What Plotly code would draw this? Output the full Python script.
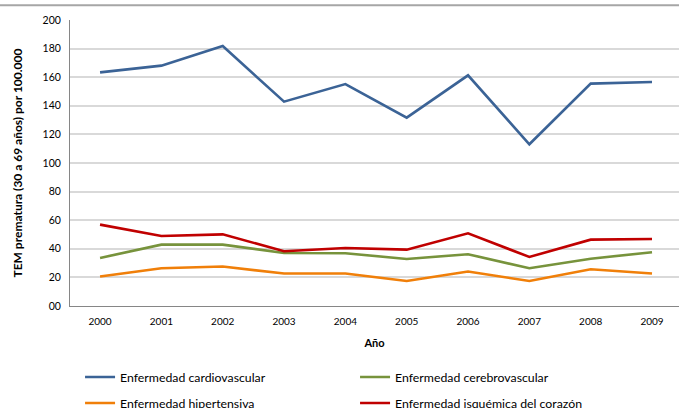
import plotly.graph_objects as go

years = ["2000", "2001", "2002", "2003", "2004", "2005", "2006", "2007", "2008", "2009"]
cardiovascular = [163.4, 168.1, 181.8, 142.9, 155.2, 131.7, 161.3, 113.1, 155.5, 156.6]
cerebrovascular = [33.6, 42.9, 42.9, 37.1, 36.9, 32.9, 36.2, 26.4, 33.1, 37.6]
hipertensiva = [20.6, 26.4, 27.6, 22.7, 22.7, 17.5, 24.1, 17.5, 25.7, 22.7]
isquemica = [56.9, 49.0, 50.1, 38.3, 40.6, 39.4, 50.8, 34.3, 46.4, 46.9]

series_names = ["Enfermedad cardiovascular", "Enfermedad cerebrovascular",
                "Enfermedad hipertensiva", "Enfermedad isquémica del corazón"]
y_tickvals = [0, 20, 40, 60, 80, 100, 120, 140, 160, 180, 200]
y_ticktext = ["00", "20", "40", "60", "80", "100", "120", "140", "160", "180", "200"]

colors = ["#3b6396", "#77933c", "#f07f09", "#c00000"]
legend_ids = ["legend", "legend", "legend2", "legend2"]
FONT = "Lato"

fig = go.Figure()
for name, vals, col, lg in zip(series_names, [cardiovascular, cerebrovascular, hipertensiva, isquemica],
                               colors, legend_ids):
    fig.add_trace(go.Scatter(x=list(range(len(years))), y=vals, mode="lines", name=name,
                             line=dict(color=col, width=2.6), legend=lg))

leg_common = dict(orientation="h", xanchor="left", yanchor="middle",
                  entrywidth=230, entrywidthmode="pixels",
                  font=dict(size=12.3, family=FONT, color="#000000"),
                  itemwidth=30, bgcolor="rgba(0,0,0,0)")

fig.update_layout(
    width=679, height=408,
    margin=dict(l=70, r=0, t=20, b=102, autoexpand=False),
    paper_bgcolor="white", plot_bgcolor="white",
    font=dict(family=FONT, color="#000000"),
    showlegend=True,
    legend=dict(x=0.0165, y=-0.248, **leg_common),
    legend2=dict(x=0.0165, y=-0.339, **leg_common),
    shapes=[dict(type="line", xref="paper", yref="paper", x0=-0.2, x1=1.1,
                 y0=1.052, y1=1.052, layer="above",
                 line=dict(color="#a6a6a6", width=2))],
)
fig.update_xaxes(
    range=[-0.49, 9.44], tickvals=list(range(len(years))), ticktext=years,
    showgrid=False, showline=True, linecolor="#868686", linewidth=1,
    ticks="", tickfont=dict(size=10, family=FONT), zeroline=False, automargin=False,
    ticklabelstandoff=6,
    title=dict(text="<b>Año</b>", font=dict(size=11, family=FONT), standoff=13),
)
fig.update_yaxes(
    range=[0, 200], tickvals=y_tickvals, ticktext=y_ticktext,
    showgrid=True, gridcolor="#d9d9d9", gridwidth=1.5,
    showline=True, linecolor="#868686", linewidth=1, zeroline=False, automargin=False,
    ticks="", tickfont=dict(size=10.5, family=FONT), ticklabelstandoff=6,
    title=dict(text="<b>TEM prematura (30 a 69 años) por 100.000</b>",
               font=dict(size=12, family=FONT), standoff=17),
)
fig.write_html("out.html", config={"displayModeBar": False},
               post_script="document.body.style.margin='0';document.body.style.padding='0';")
